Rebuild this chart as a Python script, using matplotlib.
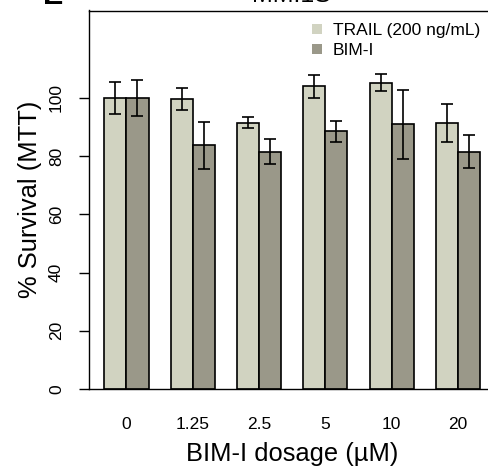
"""
% survival (MTT) by BIM-I dosage, TRAIL vs BIM-I, grouped bar chart.
"""

import matplotlib

matplotlib.use("Agg")
import matplotlib.pyplot as plt
from matplotlib.patches import Patch
import numpy as np

plt.rcParams["font.family"] = ["Liberation Sans", "DejaVu Sans"]

DOSES = ["0", "1.25", "2.5", "5", "10", "20"]
TRAIL_MEAN = [100.0, 99.6, 91.5, 103.9, 105.2, 91.4]
TRAIL_ERR = [5.6, 3.7, 1.8, 3.8, 3.0, 6.5]
BIMI_MEAN = [100.0, 83.7, 81.5, 88.5, 90.9, 81.5]
BIMI_ERR = [6.2, 8.0, 4.3, 3.7, 11.9, 5.7]
SERIES = ["TRAIL (200 ng/mL)", "BIM-I"]

LIGHT = "#D1D3C1"
DARK = "#9A9889"
W, H = 489, 466


def main() -> None:
    fig = plt.figure(figsize=(W / 100, H / 100), dpi=100)
    # axes box in pixels: left 89.3, right ~495 (cropped), top 10.5, bottom 389
    ax = fig.add_axes([89.3 / W, (H - 389) / H, (495.1 - 89.3) / W, (389 - 10.5) / H])

    n = len(DOSES)
    base = 1 + 3 * np.arange(n)
    x_light = base + 0.5
    x_dark = base + 1.5

    ax.bar(x_light, TRAIL_MEAN, width=1.0, color=LIGHT, edgecolor="black",
           linewidth=1.2, zorder=2)
    ax.bar(x_dark, BIMI_MEAN, width=1.0, color=DARK, edgecolor="black",
           linewidth=1.2, zorder=2)
    ax.errorbar(x_light, TRAIL_MEAN, yerr=TRAIL_ERR, fmt="none", ecolor="black",
                elinewidth=1.2, capsize=4.3, capthick=1.2, zorder=3)
    ax.errorbar(x_dark, BIMI_MEAN, yerr=BIMI_ERR, fmt="none", ecolor="black",
                elinewidth=1.2, capsize=4.3, capthick=1.2, zorder=3)

    ax.set_xlim(0.32, 18.68)
    ax.set_ylim(0, 130)

    ax.set_xticks(base + 1.0)
    ax.set_xticklabels(DOSES, fontsize=12.5)
    ax.tick_params(axis="x", length=0, pad=20)
    ax.set_yticks(np.arange(0, 101, 20))
    ax.set_yticklabels([str(v) for v in range(0, 101, 20)], fontsize=12.5,
                       rotation=90, va="center")
    ax.tick_params(axis="y", length=7.2, width=1.0, pad=11)

    for side in ("left", "top", "bottom"):
        ax.spines[side].set_linewidth(1.0)
    ax.spines["right"].set_visible(False)

    ax.set_xlabel("BIM-I dosage (µM)", fontsize=18.4, labelpad=7)
    ax.set_ylabel("% Survival (MTT)", fontsize=18.4, labelpad=5)

    handles = [Patch(facecolor=LIGHT, edgecolor="none"),
               Patch(facecolor=DARK, edgecolor="none")]
    ax.legend(handles, SERIES, loc="upper left",
              bbox_to_anchor=(312 / W, 1 - 23 / H),
              bbox_transform=fig.transFigure, frameon=False, fontsize=12.5,
              handlelength=0.55, handleheight=0.55, handletextpad=0.65,
              labelspacing=0.3, borderpad=0, borderaxespad=0)

    # cropped title and panel letter at the top edge
    fig.text(292 / W, 1 - 2 / H, "MM.1S", ha="center", va="baseline", fontsize=18)
    fig.text(43 / W, 1 - 4 / H, "E", ha="left", va="baseline", fontsize=22,
             fontweight="bold")

    fig.savefig("out.png", dpi=100)
    plt.close(fig)


if __name__ == "__main__":
    main()
